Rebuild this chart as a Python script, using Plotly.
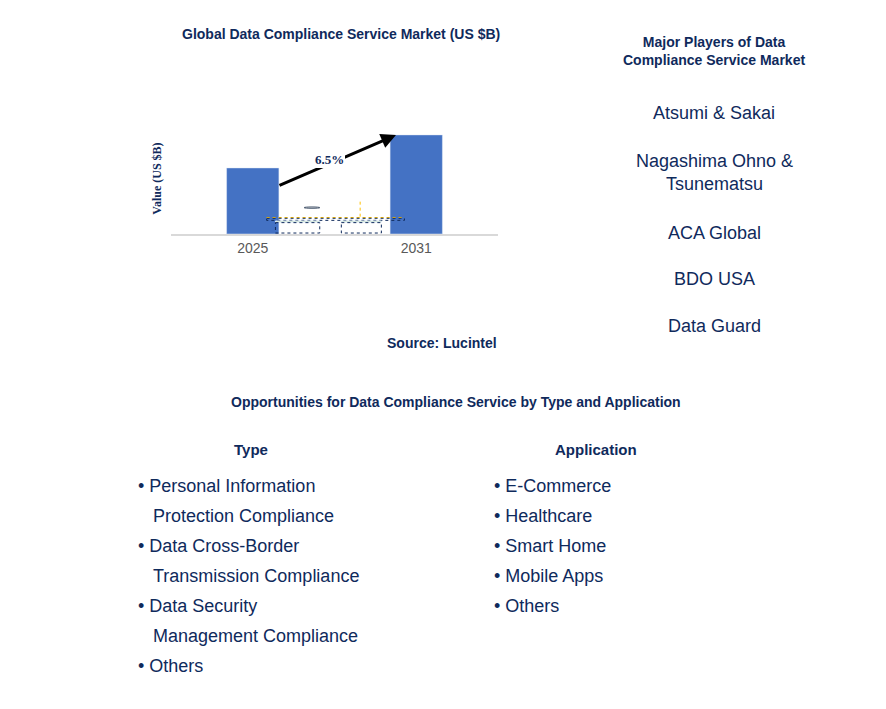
import plotly.graph_objects as go

W, H = 886, 709

years = ["2025", "2031"]
values = [2.0, 3.0]
cagr = "6.5%"
players = ["Atsumi & Sakai", "Nagashima Ohno &<br>Tsunematsu", "ACA Global", "BDO USA", "Data Guard"]
player_y = [105, 165, 225, 271, 318]
type_lines = ["• Personal Information", "   Protection Compliance", "• Data Cross-Border",
              "   Transmission Compliance", "• Data Security", "   Management Compliance", "• Others"]
app_lines = ["• E-Commerce", "• Healthcare", "• Smart Home", "• Mobile Apps", "• Others"]

NAVY = "#0f2a5c"
FONT = "Arial, Liberation Sans, sans-serif"


def px(x):
    return x / W


def py(y):
    return 1 - y / H


fig = go.Figure(go.Bar(x=years, y=values, marker_color="#4472c4", width=0.32))

fig.update_layout(
    width=W, height=H, margin=dict(l=0, r=0, t=0, b=0),
    paper_bgcolor="white", plot_bgcolor="white", showlegend=False,
    font=dict(family=FONT, color=NAVY),
    xaxis=dict(domain=[px(163), px(490)], range=[-0.5, 1.5], showline=True,
               linecolor="#d9d9d9", linewidth=1.5, ticks="",
               tickfont=dict(size=14, color="#595959", family=FONT)),
    yaxis=dict(domain=[py(226), py(115)], range=[0, 3.36], showticklabels=False,
               showgrid=False, zeroline=False,
               title=dict(text="<b>Value (US $B)</b>", font=dict(size=12, family="Times New Roman, Liberation Serif", color=NAVY), standoff=5)),
)

ann = []


def txt(x, y, s, size=14, bold=False, align="center", xanchor="center"):
    ann.append(dict(x=px(x), y=py(y), xref="paper", yref="paper", showarrow=False,
                    text=f"<b>{s}</b>" if bold else s, align=align, xanchor=xanchor,
                    yanchor="middle", font=dict(size=size, color=NAVY, family=FONT)))


txt(333, 26, "Global Data Compliance Service Market (US $B)", 14, True)
txt(434, 335, "Source: Lucintel", 14, True)
txt(706, 43, "Major Players of Data<br>Compliance Service Market", 14, True)
for name, y in zip(players, player_y):
    txt(706, y, name, 18)
txt(448, 394, "Opportunities for Data Compliance Service by Type and Application", 14, True)
txt(243, 441, "Type", 15, True)
txt(588, 441, "Application", 15, True)
for i, s in enumerate(type_lines):
    txt(128, 478 + 30 * i, s.replace(" ", "&nbsp;"), 18, align="left", xanchor="left")
for i, s in enumerate(app_lines):
    txt(484, 478 + 30 * i, s, 18, align="left", xanchor="left")

# CAGR arrow
ann.append(dict(x=px(388), y=py(127), ax=-118, ay=51, xref="paper", yref="paper",
                axref="pixel", ayref="pixel", showarrow=True, arrowhead=2, arrowsize=1,
                arrowwidth=3, arrowcolor="black", text=""))
ann.append(dict(x=px(321), y=py(143), xref="paper", yref="paper", showarrow=False,
                text=f"<b>{cagr}</b>", bgcolor="white", bordercolor="white", borderpad=0,
                font=dict(size=13, family="Times New Roman, Liberation Serif", color=NAVY)))
fig.update_layout(annotations=ann)

shapes = [
    dict(type="circle", x0=px(278), x1=px(364), y0=py(129), y1=py(157),
         line=dict(color="#44546a", width=1), fillcolor="white", layer="above"),
    dict(type="line", x0=px(582), x1=px(582), y0=py(15), y1=py(354),
         line=dict(color="#ffc000", width=1, dash="dot")),
    dict(type="line", x0=px(75), x1=px(822), y0=py(355), y1=py(355),
         line=dict(color="#ffc000", width=1, dash="dot")),
    dict(type="rect", x0=px(75), x1=px(822), y0=py(372), y1=py(416),
         line=dict(color=NAVY, width=1, dash="dot")),
    dict(type="rect", x0=px(123), x1=px(363), y0=py(430), y1=py(453),
         line=dict(color="#dae8f5", width=1), fillcolor="#c9e4a5"),
    dict(type="rect", x0=px(480), x1=px(697), y0=py(430), y1=py(453),
         line=dict(color="#dae8f5", width=1), fillcolor="#c9e4a5"),
    dict(type="rect", x0=px(123), x1=px(363), y0=py(465), y1=py(688),
         line=dict(color=NAVY, width=1, dash="dot")),
    dict(type="rect", x0=px(480), x1=px(697), y0=py(465), y1=py(688),
         line=dict(color=NAVY, width=1, dash="dot")),
]
fig.update_layout(shapes=shapes)

fig.write_html("out.html")
